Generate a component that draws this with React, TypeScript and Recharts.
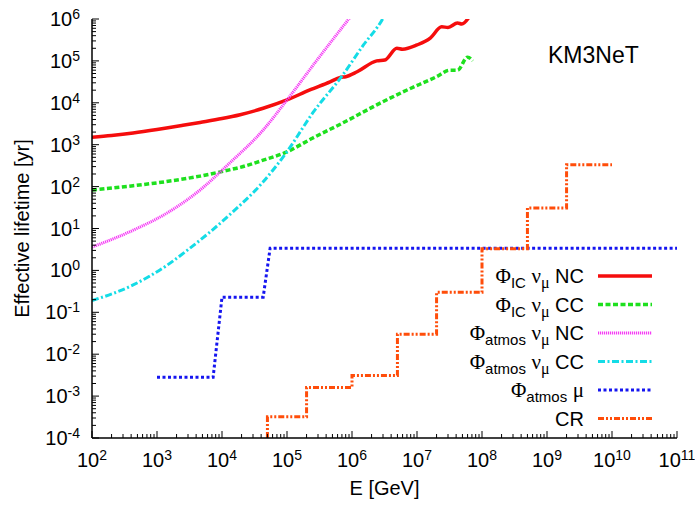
import React from 'react';
import { LineChart, Line, XAxis, YAxis, Legend } from 'recharts';

const FONT = '"Liberation Sans", Arial, Helvetica, sans-serif';
const SERIF = '"Liberation Serif", "Times New Roman", serif';

// energies in GeV, effective lifetimes in yr
const icNcEnergy = [1e2, 2e2, 4.3e2, 1e3, 1.4e3, 2.5e3, 4.6e3, 1e4, 1.9e4, 4.3e4, 1e5, 2.2e5, 4.6e5, 6.6e5, 8e5, 1.2e6, 2.4e6, 3.2e6, 4.9e6, 6e6, 1e7, 1.6e7, 2.4e7, 3e7, 4.2e7, 4.9e7, 6.3e7];
const icNcLife = [1510, 1660, 1900, 2300, 2500, 2900, 3400, 4200, 5200, 7400, 11700, 20000, 31600, 40500, 42000, 55000, 1e5, 1.05e5, 2.0e5, 1.9e5, 2.4e5, 3.5e5, 6.5e5, 6.3e5, 8e5, 7.6e5, 1.1e6];

const icCcEnergy = [1e2, 4.3e2, 1.4e3, 4.6e3, 1.3e4, 1.9e4, 4.3e4, 1e5, 2.5e5, 7.2e5, 2.4e6, 6e6, 2e7, 3.2e7, 4.2e7, 6e7, 7.2e7];
const icCcLife = [83, 105, 132, 178, 251, 288, 427, 676, 1450, 3300, 8900, 18000, 42000, 60000, 60000, 1.23e5, 1.0e5];

const atmNcEnergy = [1e2, 4.3e2, 1.4e3, 4.6e3, 1.3e4, 4.3e4, 1e5, 2.9e5, 8.7e5, 1e6];
const atmNcLife = [3.6, 9.1, 23, 83, 360, 2240, 11700, 1.05e5, 9.5e5, 1.25e6];

const atmCcEnergy = [1e2, 4.3e2, 1.4e3, 2.9e3, 1.3e4, 4.3e4, 1e5, 2.5e5, 7.2e5, 1.5e6, 2.9e6, 3.2e6];
const atmCcLife = [0.19, 0.45, 1.3, 3.0, 21, 130, 680, 5800, 46000, 2.4e5, 9.5e5, 1.25e6];

const atmMuEnergy = [1e3, 7.3e3, 1e4, 4.3e4, 5.5e4, 1e11];
const atmMuLife = [0.0028, 0.0028, 0.23, 0.23, 3.4, 3.4];

const crEnergy = [5e4, 5e4, 2e5, 2e5, 1e6, 1e6, 5e6, 5e6, 2e7, 2e7, 1e8, 1e8, 5e8, 5e8, 2e9, 2e9, 1e10];
const crLife = [1e-4, 3.2e-4, 3.2e-4, 1.6e-3, 1.6e-3, 3.1e-3, 3.1e-3, 0.03, 0.03, 0.3, 0.3, 3.3, 3.3, 31, 31, 330, 330];

const xTickExps = [2, 3, 4, 5, 6, 7, 8, 9, 10, 11];
const yTickExps = [-4, -3, -2, -1, 0, 1, 2, 3, 4, 5, 6];
const minorMantissas = [2, 3, 4, 5, 6, 7, 8, 9];

const zip = (xs: number[], ys: number[]) => xs.map((x, i) => ({ x, y: ys[i] }));

const SERIES = [
  { key: 'icnc', data: zip(icNcEnergy, icNcLife), color: '#f50d0d', width: 3.5, dash: undefined, curve: 'monotone', sub: 'IC', nu: true, tail: 'NC' },
  { key: 'iccc', data: zip(icCcEnergy, icCcLife), color: '#1ee01e', width: 3.5, dash: '5 2.5', curve: 'monotone', sub: 'IC', nu: true, tail: 'CC' },
  { key: 'atnc', data: zip(atmNcEnergy, atmNcLife), color: '#f53cf5', width: 3, dash: '1.2 0.8', curve: 'monotone', sub: 'atmos', nu: true, tail: 'NC' },
  { key: 'atcc', data: zip(atmCcEnergy, atmCcLife), color: '#14dce6', width: 3, dash: '7 2.5 2 2.5', curve: 'monotone', sub: 'atmos', nu: true, tail: 'CC' },
  { key: 'atmu', data: zip(atmMuEnergy, atmMuLife), color: '#1515f0', width: 3, dash: '3 2.5', curve: 'linear', sub: 'atmos', nu: false, tail: '' },
  { key: 'cr', data: zip(crEnergy, crLife), color: '#ff4d0a', width: 3, dash: '6 2 2 2 2 2', curve: 'linear', sub: '', nu: false, tail: 'CR' },
];

const withMinors = (exps: number[]) => {
  const out: number[] = [];
  exps.forEach((e, i) => {
    out.push(Math.pow(10, e));
    if (i < exps.length - 1) minorMantissas.forEach((m) => out.push(m * Math.pow(10, e)));
  });
  return out;
};
const xTicks = withMinors(xTickExps);
const yTicks = withMinors(yTickExps);

const isMajor = (v: number) => Math.abs(Math.log10(v) - Math.round(Math.log10(v))) < 1e-6;

const makeTick = (side: 'bottom' | 'top' | 'left' | 'right') => (props: any) => {
  const { x, y, payload } = props;
  const v = payload.value;
  const major = isMajor(v);
  const len = major ? 7 : 4;
  let x2 = x;
  let y2 = y;
  if (side === 'bottom') y2 = y - len;
  if (side === 'top') y2 = y + len;
  if (side === 'left') x2 = x + len;
  if (side === 'right') x2 = x - len;
  const exp = Math.round(Math.log10(v));
  return (
    <g>
      <line x1={x} y1={y} x2={x2} y2={y2} stroke="#000" strokeWidth={1} />
      {major && side === 'bottom' && (
        <text x={x} y={y + 29} textAnchor="middle" fontFamily={FONT} fontSize={20} fill="#000">
          <tspan>10</tspan>
          <tspan fontSize={14} dy={-7}>{exp}</tspan>
        </text>
      )}
      {major && side === 'left' && (
        <text x={x - 12} y={y + 7} textAnchor="end" fontFamily={FONT} fontSize={20} fill="#000">
          <tspan>10</tspan>
          <tspan fontSize={14} dy={-7}>{exp}</tspan>
        </text>
      )}
    </g>
  );
};

const YTitle = (props: any) => {
  const vb = props.viewBox;
  const cx = vb.x + 29;
  const cy = vb.y + vb.height / 2;
  return (
    <text x={cx} y={cy} transform={`rotate(-90 ${cx} ${cy})`} textAnchor="middle" fontFamily={FONT} fontSize={20} fill="#000">
      Effective lifetime [yr]
    </text>
  );
};

const XTitle = (props: any) => {
  const vb = props.viewBox;
  return (
    <text x={vb.x + vb.width / 2} y={vb.y + 57} textAnchor="middle" fontFamily={FONT} fontSize={20} fill="#000">
      E [GeV]
    </text>
  );
};

const Overlay = () => (
  <svg width={695} height={505} style={{ position: 'absolute', left: 0, top: 0, pointerEvents: 'none' }}>
    <text x={548} y={63} fontFamily={FONT} fontSize={23} fill="#000">KM3NeT</text>
    {SERIES.map((s, i) => {
      const cy = 276 + i * 28.5;
      return (
        <g key={s.key}>
          <text x={584} y={cy + 7} textAnchor="end" fontFamily={FONT} fontSize={20} fill="#000" style={{ whiteSpace: 'pre' }}>
            {s.sub && <tspan fontFamily={SERIF} fontSize={21}>Φ</tspan>}
            {s.sub && <tspan fontSize={15} dy={5}>{s.sub}</tspan>}
            {s.sub && <tspan dy={-5}> </tspan>}
            {s.nu && <tspan fontFamily={SERIF} fontSize={21}>ν</tspan>}
            {s.nu && <tspan fontFamily={SERIF} fontSize={16} dy={5}>μ</tspan>}
            {s.nu && <tspan dy={-5}> {s.tail}</tspan>}
            {!s.nu && s.sub && <tspan fontFamily={SERIF} fontSize={21}>μ</tspan>}
            {!s.nu && !s.sub && <tspan>{s.tail}</tspan>}
          </text>
          <line x1={598} x2={652} y1={cy} y2={cy} stroke={s.color} strokeWidth={s.width} strokeDasharray={s.dash} />
        </g>
      );
    })}
  </svg>
);

export default function App() {
  return (
    <div style={{ position: 'absolute', left: 0, top: 0, width: 695, height: 505, background: '#fff' }}>
      <LineChart width={695} height={505} margin={{ top: 19, right: 18, left: 0, bottom: 0 }}>
        <XAxis
          xAxisId="b"
          dataKey="x"
          type="number"
          scale="log"
          domain={[1e2, 1e11]}
          allowDataOverflow
          ticks={xTicks}
          interval={0}
          tickSize={0}
          tickMargin={0}
          tick={makeTick('bottom')}
          height={67}
          axisLine={{ stroke: '#000', strokeWidth: 1.5 }}
          label={{ value: 'E [GeV]', content: XTitle }}
        />
        <XAxis
          xAxisId="t"
          orientation="top"
          dataKey="x"
          type="number"
          scale="log"
          domain={[1e2, 1e11]}
          allowDataOverflow
          ticks={xTicks}
          interval={0}
          tickSize={0}
          tickMargin={0}
          tick={makeTick('top')}
          height={0}
          axisLine={{ stroke: '#000', strokeWidth: 1.5 }}
        />
        <YAxis
          yAxisId="l"
          type="number"
          scale="log"
          domain={[1e-4, 1e6]}
          allowDataOverflow
          ticks={yTicks}
          interval={0}
          tickSize={0}
          tickMargin={0}
          tick={makeTick('left')}
          width={92}
          axisLine={{ stroke: '#000', strokeWidth: 1.5 }}
          label={{ value: 'Effective lifetime [yr]', content: YTitle }}
        />
        <YAxis
          yAxisId="r"
          orientation="right"
          type="number"
          scale="log"
          domain={[1e-4, 1e6]}
          allowDataOverflow
          ticks={yTicks}
          interval={0}
          tickSize={0}
          tickMargin={0}
          tick={makeTick('right')}
          width={0}
          axisLine={{ stroke: '#000', strokeWidth: 1.5 }}
        />
        {SERIES.map((s) => (
          <Line
            key={s.key}
            xAxisId="b"
            yAxisId="l"
            data={s.data}
            dataKey="y"
            type={s.curve as any}
            stroke={s.color}
            strokeWidth={s.width}
            strokeDasharray={s.dash}
            dot={false}
            activeDot={false}
            isAnimationActive={false}
          />
        ))}
        <Legend
          layout="vertical"
          align="center"
          verticalAlign="middle"
          wrapperStyle={{ position: 'absolute', left: 0, top: 0, width: 695, height: 505, pointerEvents: 'none' }}
          content={() => <Overlay />}
        />
      </LineChart>
    </div>
  );
}
